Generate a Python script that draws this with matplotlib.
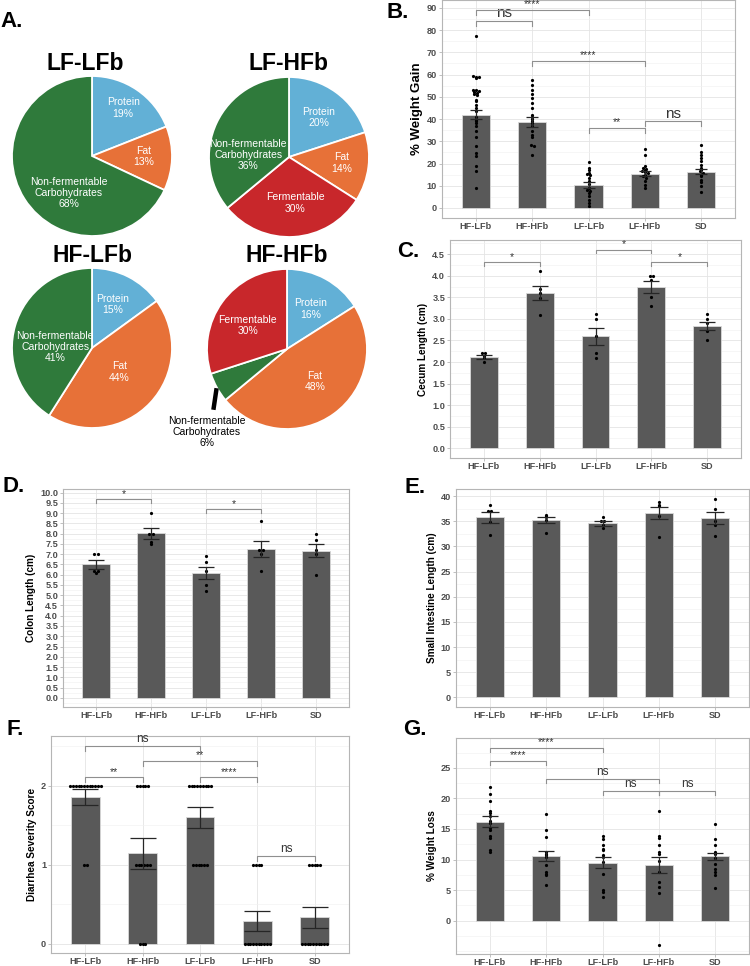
import numpy as np
import matplotlib
matplotlib.use("Agg")
import matplotlib.pyplot as plt
from matplotlib.ticker import MultipleLocator

plt.rcParams['font.family'] = ['Liberation Sans', 'DejaVu Sans']

groups = ['HF-LFb', 'HF-HFb', 'LF-LFb', 'LF-HFb', 'SD']

# ---- A. diet composition pies
pie_titles = ['LF-LFb', 'LF-HFb', 'HF-LFb', 'HF-HFb']
pie_parts = [['Protein', 'Fat', 'Non-fermentable'],
             ['Protein', 'Fat', 'Fermentable', 'Non-fermentable'],
             ['Protein', 'Fat', 'Non-fermentable'],
             ['Protein', 'Fat', 'Non-fermentable', 'Fermentable']]
pie_values = [[19, 13, 68], [20, 14, 30, 36], [15, 44, 41], [16, 48, 6, 30]]

# ---- B. % weight gain
gain_mean = [42.0, 38.8, 10.4, 15.5, 16.4]
gain_sem = [2.1, 2.2, 1.4, 1.1, 1.1]
gain_pts = [
    [77.5, 59.3, 59.0, 58.7, 58.4, 53.2, 53.0, 52.6, 52.2, 51.8, 51.4, 50.8, 48.7, 48.3,
     46.5, 45.0, 43.5, 41.0, 39.7, 39.0, 38.0, 36.7, 34.5, 32.0, 28.0, 24.7, 23.5, 18.7, 16.8, 9.0],
    [57.4, 55.2, 53.2, 51.3, 49.5, 47.2, 45.0, 42.0, 41.0, 40.2, 39.0, 38.0, 36.7, 34.8,
     33.0, 32.0, 28.5, 27.7, 24.0],
    [20.5, 18.0, 17.0, 15.8, 15.4, 15.0, 13.5, 12.0, 11.0, 9.0, 8.0, 7.5, 6.7, 5.2, 3.7, 2.2, 0.7],
    [26.7, 24.0, 18.7, 18.0, 17.5, 17.2, 16.5, 16.0, 15.7, 15.0, 14.3, 13.5, 12.0, 10.5, 9.0],
    [28.5, 25.2, 24.0, 22.5, 21.0, 19.2, 18.0, 17.0, 16.5, 15.7, 15.0, 14.3, 12.7, 11.5, 9.7, 7.2],
]
gain_sig = [(0, 1, 84, 'ns'), (0, 2, 89, '****'), (1, 3, 66, '****'), (2, 3, 36, '**'), (3, 4, 39, 'ns')]

# ---- C. cecum length
cecum_mean = [2.12, 3.60, 2.60, 3.74, 2.84]
cecum_sem = [0.04, 0.16, 0.20, 0.14, 0.10]
cecum_pts = [[2.2, 2.2, 2.13, 2.1, 2.0], [4.1, 3.69, 3.6, 3.48, 3.1], [3.11, 3.0, 2.6, 2.2, 2.1],
             [4.0, 4.0, 3.9, 3.5, 3.3], [3.11, 3.0, 2.9, 2.72, 2.5]]
cecum_sig = [(0, 1, 4.31, '*'), (2, 3, 4.60, '*'), (3, 4, 4.31, '*')]

# ---- D. colon length
colon_mean = [6.50, 8.02, 6.08, 7.24, 7.18]
colon_sem = [0.20, 0.27, 0.31, 0.39, 0.34]
colon_pts = [[7.0, 7.0, 6.2, 6.2, 6.1], [9.0, 8.0, 8.0, 7.6, 7.5], [6.9, 6.6, 6.2, 5.5, 5.2],
             [8.6, 7.2, 7.2, 7.0, 6.2], [8.0, 7.7, 7.2, 7.0, 6.0]]
colon_sig = [(0, 1, 9.67, '*'), (2, 3, 9.19, '*')]

# ---- E. small intestine length
si_mean = [35.8, 35.2, 34.6, 36.6, 35.6]
si_sem = [1.1, 0.65, 0.45, 1.25, 1.25]
si_pts = [[38.2, 37.1, 37.1, 34.9, 32.3], [36.2, 36.1, 35.9, 35.2, 32.6], [35.8, 35.1, 35.1, 34.2, 33.6],
          [38.9, 38.3, 38.0, 36.0, 31.9], [39.4, 37.4, 35.1, 34.2, 32.1]]

# ---- F. diarrhea score (counts of mice scoring 2 / 1 / 0)
score_levels = [2, 1, 0]
score_counts = [[12, 2, 0], [5, 6, 3], [9, 6, 0], [0, 4, 10], [0, 5, 10]]
score_mean = [1.857, 1.143, 1.600, 0.286, 0.333]
score_sem = [0.10, 0.20, 0.13, 0.125, 0.13]
score_sig = [(0, 2, 2.505, 'ns'), (1, 3, 2.31, '**'), (0, 1, 2.105, '**'), (2, 3, 2.105, '****'),
             (3, 4, 1.107, 'ns')]

# ---- G. % weight loss
loss_mean = [16.2, 10.6, 9.5, 9.1, 10.5]
loss_sem = [0.85, 0.8, 0.9, 1.3, 0.65]
loss_pts = [
    [21.9, 20.8, 19.6, 17.9, 17.6, 17.2, 16.3, 16.0, 15.2, 14.9, 13.9, 13.5, 11.5, 11.2],
    [17.4, 14.8, 13.7, 11.2, 10.9, 10.7, 10.4, 9.1, 8.0, 7.7, 7.5, 5.9],
    [13.9, 13.3, 12.3, 11.7, 11.5, 10.8, 10.4, 9.6, 7.6, 5.0, 4.7, 3.9],
    [17.9, 13.8, 13.6, 12.3, 11.3, 10.9, 9.8, 8.0, 6.3, 5.5, 4.5, -4.0],
    [15.8, 13.4, 12.4, 11.3, 11.1, 10.9, 10.2, 9.3, 8.5, 8.0, 7.5, 5.4],
]
loss_sig = [(0, 2, 28.25, '****'), (0, 1, 26.2, '****'), (1, 3, 23.2, 'ns'), (2, 3, 21.2, 'ns'),
            (3, 4, 21.2, 'ns')]

colors = {'Protein': '#62b0d6', 'Fat': '#e77138', 'Non-fermentable': '#2f7a3b', 'Fermentable': '#c8272b'}

W, H = 750, 966
fig = plt.figure(figsize=(7.5, 9.66), dpi=100)


def px_axes(left, top, right, bottom):
    return fig.add_axes([left / W, 1 - bottom / H, (right - left) / W, (bottom - top) / H])


def letter(x, y, s):
    fig.text(x / W, 1 - y / H, s, fontsize=16, fontweight='bold', va='baseline', ha='left')


# pies
pie_centers = [(92, 156), (289, 157), (92, 348), (287, 349)]
label_pos = [[(0.39, 0.60), (0.64, -0.01), (-0.29, -0.46)],
             [(0.375, 0.49), (0.66, -0.075), (0.075, -0.575), (-0.51, 0.025)],
             [(0.26, 0.54), (0.34, -0.30), (-0.46, 0.01)],
             [(0.30, 0.50), (0.35, -0.41), (-1.0, -1.04), (-0.49, 0.29)]]
R = 80
for k in range(4):
    cx, cy = pie_centers[k]
    ax = px_axes(cx - 1.25 * R, cy - 1.25 * R, cx + 1.25 * R, cy + 1.25 * R)
    vals = pie_values[k]
    ax.pie(vals, colors=[colors[p] for p in pie_parts[k]], startangle=90, counterclock=False,
           wedgeprops=dict(edgecolor='white', linewidth=1.3), radius=1)
    ax.set_xlim(-1.25, 1.25)
    ax.set_ylim(-1.25, 1.25)
    ax.set_aspect('equal')
    ax.axis('off')
    for part, v, (lx, ly) in zip(pie_parts[k], vals, label_pos[k]):
        name = part + '\nCarbohydrates' if 'ferm' in part else part
        col = 'white'
        if v < 10:
            col = 'black'
            ax.plot([-0.88, -0.92], [-0.49, -0.76], color='black', lw=3.2, solid_capstyle='butt')
        ax.text(lx, ly, f'{name}\n{v}%', ha='center', va='center', fontsize=7.5, color=col,
                linespacing=1.15)
    fig.text(cx / W - (0.009 if k in (0,) else 0), 1 - (70 if k < 2 else 262) / H, pie_titles[k],
             fontsize=16.5, fontweight='bold', ha='center', va='baseline')


def bar_panel(ax, means, sems, pts, ylim, major, minor, ylabel, binw, step, cap, sig=(), tick=0,
              label_size=7.2, ns_size=8.5, ymin_tick=None):
    x = np.arange(len(groups))
    ax.bar(x, means, width=0.5, color='#595959', edgecolor='#d9d9d9', linewidth=0.6, zorder=2)
    for i, vals in enumerate(pts):
        vals = np.asarray(vals, float)
        xs = np.full(len(vals), float(i))
        bins = np.round(vals / binw)
        for b in np.unique(bins):
            idx = np.where(bins == b)[0]
            xs[idx] = i + (np.arange(len(idx)) - (len(idx) - 1) / 2) * step
        ax.plot(xs, vals, 'o', ms=2.3, color='black', mec='none', zorder=3)
    ax.errorbar(x, means, yerr=sems, fmt='none', ecolor='#262626', elinewidth=0.9, capsize=cap,
                capthick=0.9, zorder=4)
    for i, j, y, lab in sig:
        ax.plot([i, i, j, j], [y - tick, y, y, y - tick], color='#8f8f8f', lw=0.8, zorder=5,
                clip_on=False)
        size = ns_size if lab == 'ns' else 7.5
        ax.annotate(lab, ((i + j) / 2, y), xytext=(0, 0.5), textcoords='offset points',
                    ha='center', va='bottom', fontsize=size, color='#333333',
                    annotation_clip=False)
    ax.set_xlim(-0.6, 4.6)
    ax.set_ylim(*ylim)
    ax.set_xticks(x)
    ax.set_xticklabels(groups, fontweight='bold')
    if ymin_tick is None:
        ax.yaxis.set_major_locator(MultipleLocator(major))
    else:
        ax.set_yticks(np.arange(ymin_tick, ylim[1], major))
    ax.yaxis.set_minor_locator(MultipleLocator(minor))
    ax.set_ylabel(ylabel, fontsize=label_size, fontweight='bold', labelpad=3)
    ax.grid(which='major', color='#e4e4e4', lw=0.6)
    ax.grid(which='minor', axis='y', color='#f1f1f1', lw=0.45)
    ax.set_axisbelow(True)
    for s in ax.spines.values():
        s.set_color('#b5b5b5')
        s.set_linewidth(0.8)
    ax.tick_params(which='major', length=2, width=0.6, color='#b5b5b5', labelcolor='#4d4d4d',
                   labelsize=6.6, pad=1.5)
    ax.tick_params(axis='x', pad=0.6)
    ax.tick_params(which='minor', length=0)
    plt.setp(ax.get_yticklabels(), fontweight='bold')


letter(0, 27, 'A.')

ax = px_axes(442, 0, 735, 218)
bar_panel(ax, gain_mean, gain_sem, gain_pts, (-4.5, 93.5), 10, 5, '% Weight Gain', 1.0, 0.055, 4.5,
          gain_sig, 2.3, label_size=9.5, ns_size=11)
letter(387, 18, 'B.')

ax = px_axes(450, 240, 741, 458)
bar_panel(ax, cecum_mean, cecum_sem, cecum_pts, (-0.225, 4.83), 0.5, 0.25, 'Cecum Length (cm)',
          0.03, 0.06, 6, cecum_sig, 0.08)
letter(397, 257, 'C.')

ax = px_axes(63, 489, 349, 707)
bar_panel(ax, colon_mean, colon_sem, colon_pts, (-0.45, 10.18), 0.5, 0.25, 'Colon Length (cm)',
          0.06, 0.06, 5.5, colon_sig, 0.16)
letter(2, 492, 'D.')

ax = px_axes(456, 489, 749, 707)
bar_panel(ax, si_mean, si_sem, si_pts, (-1.9, 41.4), 5, 2.5, 'Small Intestine Length (cm)',
          0.2, 0.06, 6.5)
letter(405, 493, 'E.')

score_pts = [np.repeat(score_levels, c) for c in score_counts]
ax = px_axes(51, 736, 349, 953)
bar_panel(ax, score_mean, score_sem, score_pts, (-0.12, 2.63), 1, 0.5, 'Diarrhea Severity Score',
          0.1, 0.048, 9.5, score_sig, 0.06)
letter(7, 735, 'F.')

ax = px_axes(456, 738, 749, 954)
bar_panel(ax, loss_mean, loss_sem, loss_pts, (-5.47, 29.9), 5, 2.5, '% Weight Loss',
          0.15, 0.06, 5.5, loss_sig, 0.7, ymin_tick=0)
letter(403, 735, 'G.')

fig.savefig('out.png', dpi=100)
